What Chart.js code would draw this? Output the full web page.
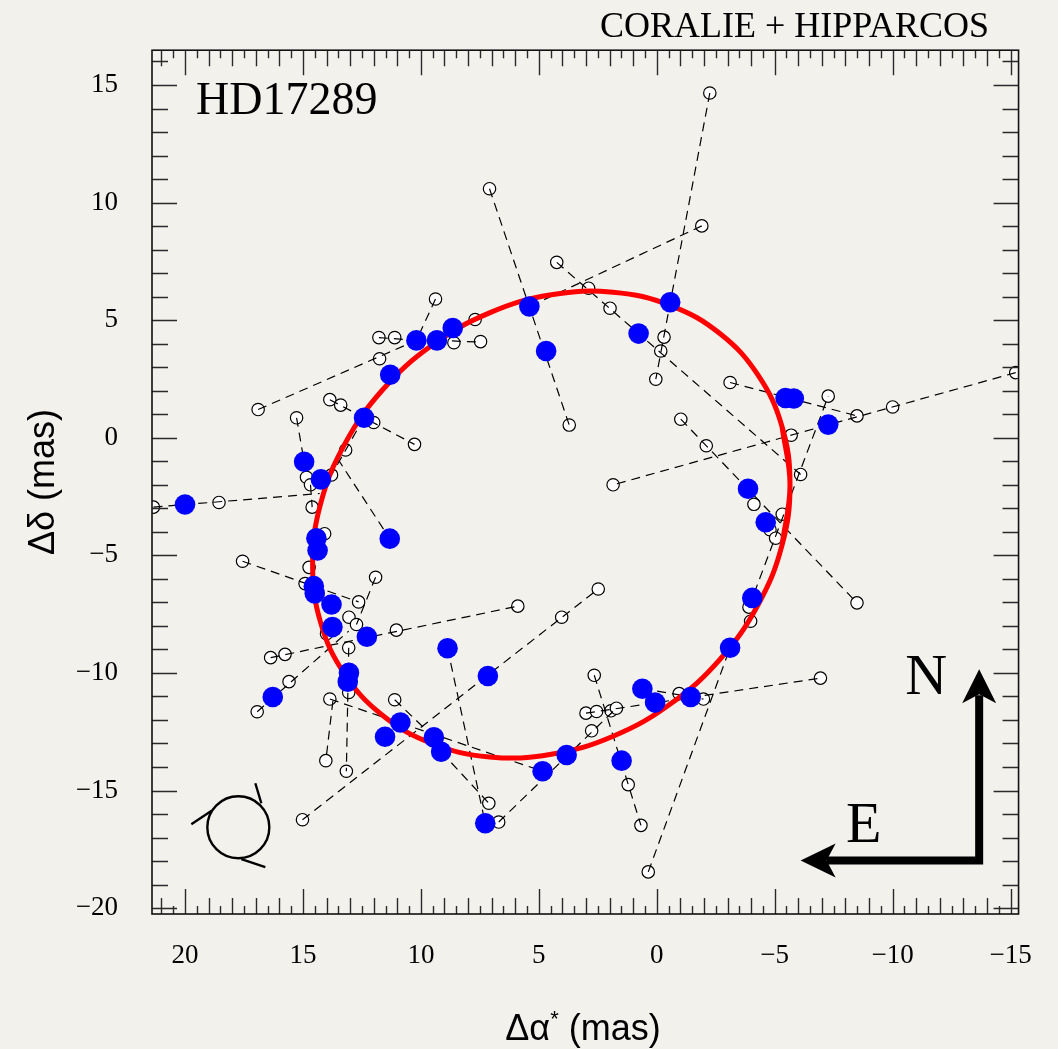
<!DOCTYPE html>
<html lang="en">
<head>
<meta charset="UTF-8">
<title>HD17289 astrometric orbit</title>
<script src="https://cdn.jsdelivr.net/npm/chart.js@4.4.1/dist/chart.umd.min.js"></script>
<style>
  html, body { margin: 0; padding: 0; background: #f3f1ec; }
  #wrap { width: 1058px; height: 1049px; }
</style>
</head>
<body>
<div id="wrap"><canvas id="orbitChart" width="1058" height="1049"></canvas></div>
<script>
// positions in mas
const blueX = [20.00, 16.28, 14.95, 14.24, 14.43, 14.38, 14.54, 14.50, 13.79, 13.75, 13.05, 13.10, 12.29, 11.32,
  12.41, 11.30, 10.19, 9.32, 8.65, 5.40, 4.69, 0.77, -0.57, -5.46, -5.81, -7.27, -3.87, -4.62, -4.05, -3.11,
  -1.44, 0.07, 0.61, 1.49, 3.82, 4.84, 7.27, 7.16, 8.87, 9.45, 9.14, 10.87, 11.52];
const blueY = [-2.84, -11.02, -1.02, -1.77, -4.27, -4.79, -6.31, -6.62, -7.09, -8.05, -9.99, -10.37, -8.46, -4.29,
  0.85, 2.68, 4.14, 4.14, 4.67, 5.58, 3.69, 4.43, 5.76, 1.69, 1.67, 0.56, -2.17, -3.59, -6.81, -8.93,
  -11.02, -11.26, -10.67, -13.73, -13.49, -14.18, -16.39, -10.13, -8.95, -12.74, -13.35, -12.11, -12.71];

const openX = [-2.25, 7.09, -1.91, 4.24, 2.89, 1.98, 9.38, 7.70, 7.47, -0.31, 11.78, 11.11, 11.75, 16.90, 13.86,
  13.40, 15.27, 12.00, 10.27, 13.19, 13.79, 14.85, 14.68, 18.56, 21.34, 14.61, 14.08, 17.56, 14.74, 14.91,
  11.92, 12.64, 13.05, 12.73, 11.04, 14.00, 16.37, 15.76, 13.06, 15.59, 16.94, 13.86, 13.06, 11.11, 14.03,
  13.16, 15.02, 5.89, 4.03, 2.48, 3.71, -0.17, 0.04, -3.11, -1.02, -2.10, 1.85, -7.27, -8.49, -10.00,
  -15.22, -5.70, -6.10, -4.12, -5.32, -4.80, -5.04, -8.49, -3.91, -3.98, -6.94, -1.98, -0.95, 2.65, 3.00,
  2.55, 1.94, 1.71, 2.76, 1.21, 0.67, 0.36, 7.12, 6.70, 8.60];
const openY = [14.66, 10.59, 9.01, 7.46, 6.36, 5.51, 5.90, 5.03, 4.09, 4.28, 4.26, 4.26, 3.36, 1.20, 1.62,
  1.39, 0.85, 0.65, -0.28, -0.52, -1.58, -1.68, -2.00, -2.75, -2.95, -2.95, -4.08, -5.25, -5.51, -6.20,
  -5.93, -6.98, -7.63, -7.94, -8.18, -8.33, -9.35, -9.21, -8.93, -10.37, -11.65, -11.11, -10.83, -11.14, -13.73,
  -14.18, -16.24, -7.16, -7.63, -6.43, 0.54, 3.69, 2.49, 2.35, 0.79, -0.34, -2.00, 1.77, 0.93, 1.31,
  2.77, 0.11, -1.56, -2.83, -3.25, -3.91, -4.27, -7.02, -7.20, -7.80, -10.22, -11.11, -10.88, -10.10, -11.71,
  -11.64, -11.61, -11.50, -12.46, -14.75, -16.48, -18.46, -15.54, -16.34, 4.04];

// fitted orbit, points (first/last repeated to close it smoothly)
const orbitX = [-5.31, -5.65, -5.31, -4.29, -2.69, -0.59, 1.85, 4.47, 7.09, 9.53, 11.63, 13.23, 14.25,
  14.59, 14.25, 13.23, 11.63, 9.53, 7.09, 4.47, 1.85, -0.59, -2.69, -4.29, -5.31, -5.65, -5.31];
const orbitY = [0.48, -2.00, -4.58, -7.11, -9.41, -11.31, -12.69, -13.46, -13.57, -13.00, -11.80, -10.05, -7.86,
  -5.38, -2.80, -0.27, 2.03, 3.93, 5.31, 6.08, 6.19, 5.62, 4.42, 2.67, 0.48, -2.00, -4.58];

// Hipparcos scan lines: [x1, y1, x2, y2]
const scanLines = [
  [-2.25, 14.66, 0.04, 2.49], [-1.91, 9.01, 5.40, 5.58], [4.24, 7.46, -6.10, -1.56], [7.09, 10.59, 3.71, 0.54],
  [9.38, 5.90, 10.19, 4.14], [16.90, 1.20, 10.19, 4.14], [9.32, 4.14, 7.47, 4.07], [11.78, 4.26, 10.19, 4.14],
  [13.86, 1.62, 10.27, -0.28], [15.27, 0.85, 14.95, -1.02], [12.41, 0.85, 13.79, -1.58], [13.53, -0.89, 11.32, -4.29],
  [21.34, -2.95, 14.29, -2.37], [14.68, -2.00, 14.61, -2.95], [17.56, -5.25, 12.64, -6.98], [11.92, -5.93, 12.73, -7.94],
  [13.06, -8.93, 13.16, -14.18], [13.73, -11.19, 14.03, -13.73], [13.86, -11.11, 4.84, -14.18], [15.02, -16.24, 2.48, -6.43],
  [16.37, -9.35, 5.89, -7.16], [16.94, -11.65, 13.06, -8.22], [8.87, -8.95, 7.27, -16.39], [11.11, -11.14, 9.45, -12.74],
  [9.14, -13.35, 7.12, -15.54], [6.70, -16.34, 1.71, -11.50], [3.00, -11.71, -6.94, -10.22], [2.65, -10.10, 0.67, -16.48],
  [0.36, -18.46, -3.11, -8.93], [-3.91, -7.20, -7.27, 1.77], [-3.11, 2.35, -8.49, 0.93], [-15.22, 2.77, 1.85, -2.00],
  [-1.02, 0.79, -8.49, -7.02], [7.70, 5.03, 8.65, 4.67], [0.61, -10.67, -1.98, -11.11]
];

const xTicks = [20, 15, 10, 5, 0, -5, -10, -15];
const yTicks = [15, 10, 5, 0, -5, -10, -15, -20];

const pts = (xs, ys) => xs.map((x, i) => ({ x: x, y: ys[i] }));
const fmt = v => (v < 0 ? '\u2212' + Math.abs(v) : String(v));

const bgPlugin = {
  id: 'bg',
  beforeDraw(chart) {
    const ctx = chart.ctx;
    ctx.save();
    ctx.fillStyle = '#f3f1ec';
    ctx.fillRect(0, 0, chart.width, chart.height);
    ctx.restore();
  }
};

// box with inward ticks on all four sides
const framePlugin = {
  id: 'frame',
  afterDraw(chart) {
    const { ctx, chartArea: a, scales: { x, y } } = chart;
    ctx.save();
    ctx.strokeStyle = '#2a2a2a';
    ctx.lineWidth = 1.4;
    ctx.beginPath();
    for (let k = -32; k <= 44; k++) {
      const v = k / 2;
      if (v < x.min || v > x.max) continue;
      const px = Math.round(x.getPixelForValue(v)) + 0.5;
      const len = v % 5 === 0 ? 25 : (Number.isInteger(v) ? 16 : 8);
      ctx.moveTo(px, a.bottom); ctx.lineTo(px, a.bottom - len);
      ctx.moveTo(px, a.top); ctx.lineTo(px, a.top + len);
    }
    for (let v = -21; v <= 17; v++) {
      if (v < y.min || v > y.max) continue;
      const py = Math.round(y.getPixelForValue(v)) + 0.5;
      const len = v % 5 === 0 ? 25 : 16;
      ctx.moveTo(a.left, py); ctx.lineTo(a.left + len, py);
      ctx.moveTo(a.right, py); ctx.lineTo(a.right - len, py);
    }
    ctx.stroke();
    ctx.lineWidth = 1.6;
    ctx.strokeStyle = '#111';
    ctx.strokeRect(a.left, a.top, a.right - a.left, a.bottom - a.top);
    ctx.restore();
  }
};

// labels, compass and the motion symbol
const notesPlugin = {
  id: 'notes',
  afterDraw(chart) {
    const { ctx, scales: { x, y } } = chart;
    ctx.save();
    ctx.fillStyle = '#000';
    ctx.textBaseline = 'alphabetic';

    ctx.font = '46px "Liberation Serif"';
    ctx.textAlign = 'left';
    ctx.fillText('HD17289', 196, 114);

    ctx.font = '36px "Liberation Serif"';
    ctx.textAlign = 'right';
    ctx.fillText('CORALIE + HIPPARCOS', 989, 37);

    // x axis title with raised asterisk
    ctx.textAlign = 'left';
    const p1 = 'Δα', p3 = ' (mas)';
    ctx.font = '36px "Liberation Sans"';
    const w1 = ctx.measureText(p1).width;
    const w3 = ctx.measureText(p3).width;
    ctx.font = '22px "Liberation Sans"';
    const w2 = ctx.measureText('*').width;
    const sx = 583 - (w1 + w2 + w3) / 2;
    ctx.font = '36px "Liberation Sans"';
    ctx.fillText(p1, sx, 1040);
    ctx.font = '22px "Liberation Sans"';
    ctx.fillText('*', sx + w1, 1026);
    ctx.font = '36px "Liberation Sans"';
    ctx.fillText(p3, sx + w1 + w2, 1040);

    // y axis title
    ctx.save();
    ctx.translate(44, 482);
    ctx.rotate(-Math.PI / 2);
    ctx.textAlign = 'center';
    ctx.textBaseline = 'middle';
    ctx.font = '36px "Liberation Sans"';
    ctx.fillText('Δδ (mas)', 0, 0);
    ctx.restore();

    // compass
    const cx = x.getPixelForValue(-13.67), cy = y.getPixelForValue(-17.97);
    const nTip = y.getPixelForValue(-9.84), eTip = x.getPixelForValue(-6.10);
    ctx.strokeStyle = '#000';
    ctx.lineWidth = 8;
    ctx.lineCap = 'butt';
    ctx.beginPath();
    ctx.moveTo(cx, cy + 4); ctx.lineTo(cx, nTip + 26);
    ctx.moveTo(cx + 4, cy); ctx.lineTo(eTip + 26, cy);
    ctx.stroke();
    ctx.beginPath();
    ctx.moveTo(cx, nTip); ctx.lineTo(cx + 17, nTip + 34); ctx.lineTo(cx, nTip + 25); ctx.lineTo(cx - 17, nTip + 34);
    ctx.closePath();
    ctx.moveTo(eTip, cy); ctx.lineTo(eTip + 35, cy - 17); ctx.lineTo(eTip + 26, cy); ctx.lineTo(eTip + 35, cy + 17);
    ctx.closePath();
    ctx.fill();
    ctx.font = '58px "Liberation Serif"';
    ctx.textAlign = 'left';
    ctx.fillText('N', x.getPixelForValue(-10.54), y.getPixelForValue(-10.89));
    ctx.fillText('E', x.getPixelForValue(-8.02), y.getPixelForValue(-17.2));

    // direction-of-motion symbol
    const ox = x.getPixelForValue(17.74), oy = y.getPixelForValue(-16.56);
    ctx.lineWidth = 2.4;
    ctx.beginPath();
    ctx.arc(ox, oy, 31, 0, Math.PI * 2);
    ctx.moveTo(ox - 47, oy - 3); ctx.lineTo(ox - 26, oy - 17);
    ctx.moveTo(ox + 17, oy - 44); ctx.lineTo(ox + 23, oy - 24);
    ctx.moveTo(ox + 3, oy + 32); ctx.lineTo(ox + 27, oy + 40);
    ctx.stroke();
    ctx.restore();
  }
};

const lineSets = scanLines.map(s => ({
  data: [{ x: s[0], y: s[1] }, { x: s[2], y: s[3] }],
  showLine: true,
  borderColor: '#000',
  borderWidth: 1.2,
  borderDash: [9, 6],
  pointRadius: 0,
  order: 2
}));

new Chart(document.getElementById('orbitChart'), {
  type: 'scatter',
  data: {
    datasets: [
      {
        label: 'orbit model',
        data: pts(blueX, blueY),
        pointRadius: 10.3,
        pointBackgroundColor: '#0000ff',
        pointBorderWidth: 0,
        order: 0
      },
      {
        label: 'orbit',
        data: pts(orbitX, orbitY),
        showLine: true,
        borderColor: '#ff0000',
        borderWidth: 5,
        tension: 0.4,
        pointRadius: 0,
        order: 1
      },
      {
        label: 'Hipparcos',
        data: pts(openX, openY),
        pointRadius: 6.2,
        pointBackgroundColor: '#ffffff',
        pointBorderColor: '#000',
        pointBorderWidth: 1.2,
        order: 3
      },
      ...lineSets
    ]
  },
  options: {
    responsive: false,
    animation: false,
    devicePixelRatio: 1,
    layout: { padding: { top: 47, right: 38, left: 0, bottom: 0 } },
    plugins: { legend: { display: false }, tooltip: { enabled: false } },
    scales: {
      x: {
        type: 'linear',
        reverse: true,
        min: -15.34,
        max: 21.4,
        afterBuildTicks: s => { s.ticks = xTicks.map(v => ({ value: v })); },
        afterFit: s => { s.height = 135; },
        grid: { display: false, drawTicks: false },
        border: { display: false },
        ticks: {
          autoSkip: false,
          maxRotation: 0,
          padding: 26,
          color: '#000',
          font: { family: 'Liberation Serif', size: 27 },
          callback: v => fmt(v)
        }
      },
      y: {
        type: 'linear',
        min: -20.25,
        max: 16.48,
        afterBuildTicks: s => { s.ticks = yTicks.map(v => ({ value: v })); },
        afterFit: s => { s.width = 152; },
        grid: { display: false, drawTicks: false },
        border: { display: false },
        ticks: {
          autoSkip: false,
          padding: 34,
          color: '#000',
          font: { family: 'Liberation Serif', size: 27 },
          callback: v => fmt(v)
        }
      }
    }
  },
  plugins: [bgPlugin, framePlugin, notesPlugin]
});
</script>
</body>
</html>
